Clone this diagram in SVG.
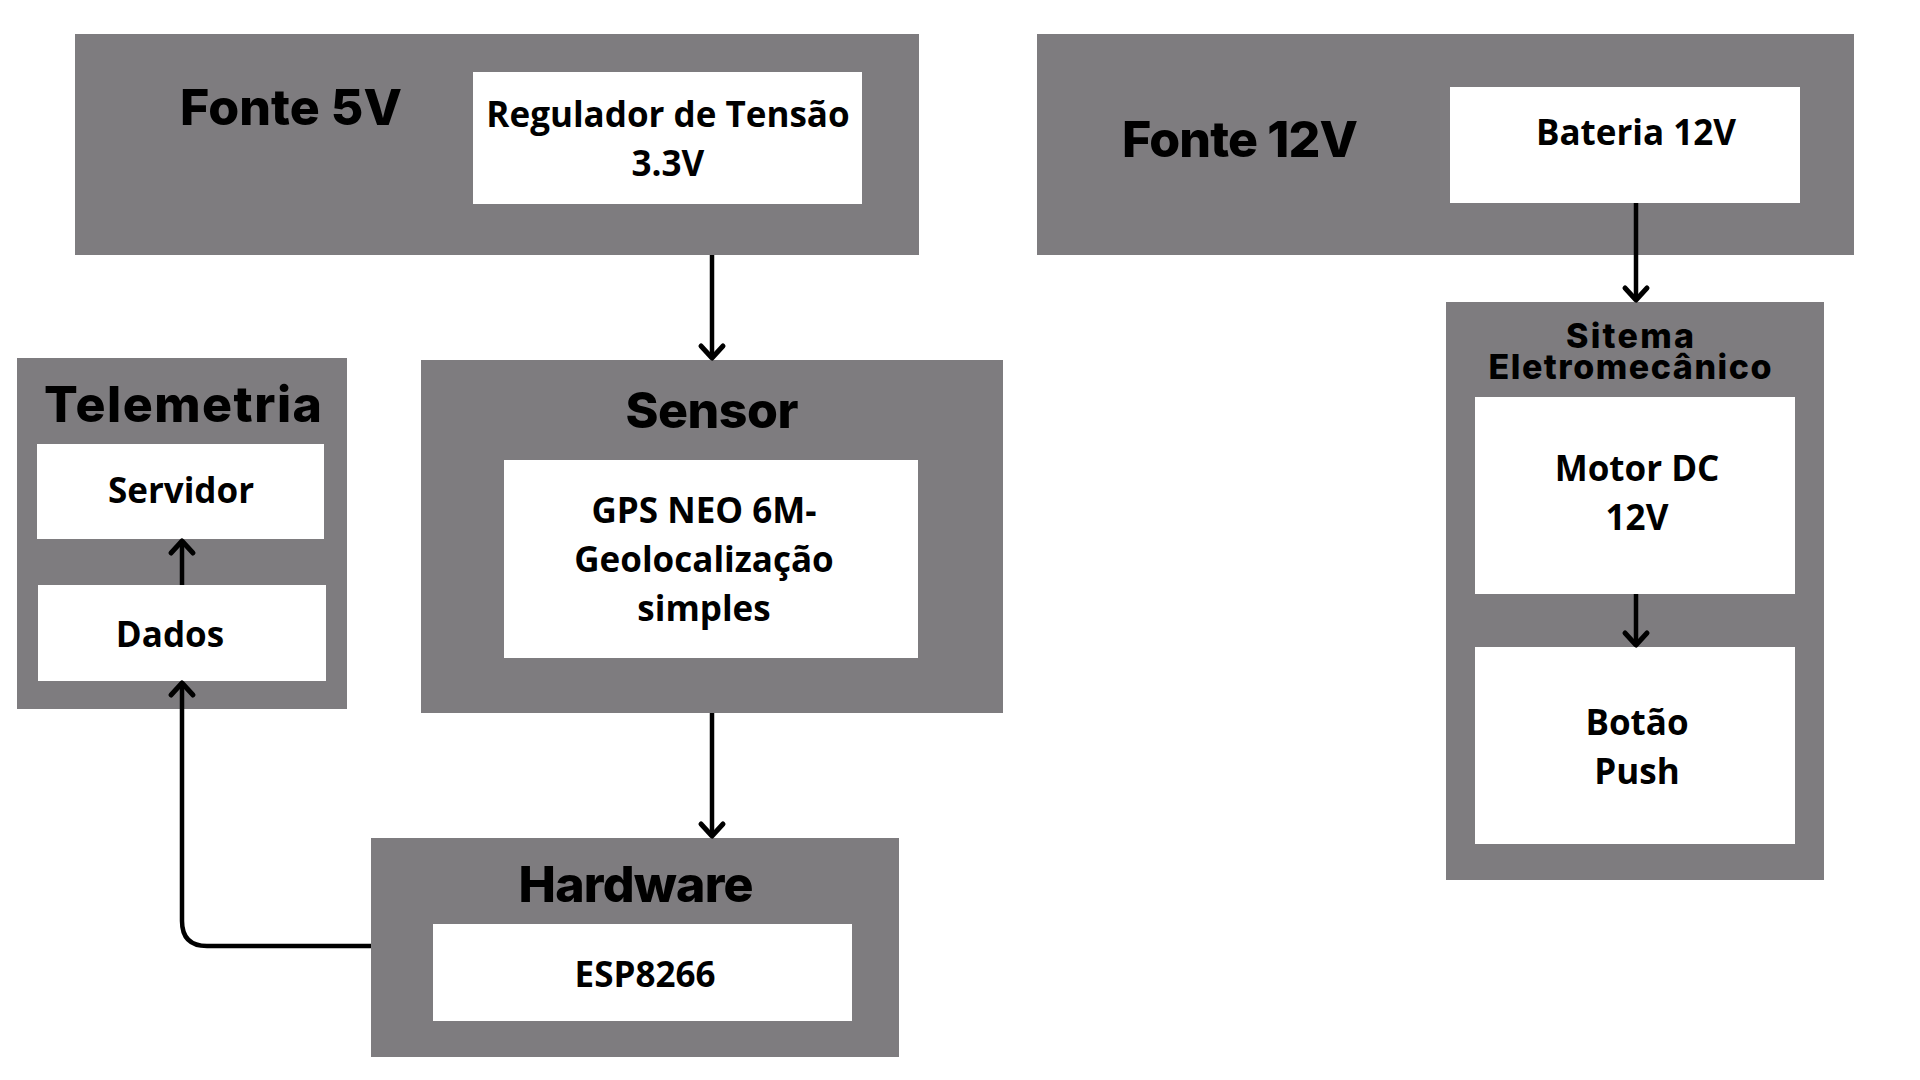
<svg xmlns="http://www.w3.org/2000/svg" width="1920" height="1080" viewBox="0 0 1920 1080">
<defs>
<style>
.outer{fill:#7e7c7f}
.inner{fill:#ffffff}
.title{font-family:Inter,"Liberation Sans",sans-serif;font-weight:800;fill:#000;text-anchor:middle}
.lbl{font-family:"Open Sans","Liberation Sans",sans-serif;font-weight:700;fill:#000;text-anchor:middle;font-size:35px}
.conn{fill:none;stroke:#000;stroke-width:4.5}
</style>
<marker id="arr" markerUnits="userSpaceOnUse" markerWidth="34" markerHeight="34" viewBox="-17 -17 34 34" refX="0" refY="0" orient="auto">
<polyline points="-12,-11 0,0 -12,11" fill="none" stroke="#000" stroke-width="5" stroke-linecap="round" stroke-linejoin="round"/>
</marker>
</defs>
<rect width="1920" height="1080" fill="#fff"/>
<g id="fonte5v">
<rect class="outer" x="75" y="34" width="844" height="221"/>
<text class="title" x="291" y="125" font-size="50" textLength="222">Fonte 5V</text>
<g id="regulador">
<rect class="inner" x="473" y="72" width="389" height="132"/>
<text class="lbl" x="668" y="127">Regulador de Tensão</text>
<text class="lbl" x="668" y="176">3.3V</text>
</g>
</g>
<g id="fonte12v">
<rect class="outer" x="1037" y="34" width="817" height="221"/>
<text class="title" x="1240" y="157" font-size="50" textLength="236">Fonte 12V</text>
<g id="bateria">
<rect class="inner" x="1450" y="87" width="350" height="116"/>
<text class="lbl" x="1636" y="145">Bateria 12V</text>
</g>
</g>
<g id="telemetria">
<rect class="outer" x="17" y="358" width="330" height="351"/>
<text class="title" x="183" y="422" font-size="50" textLength="278">Telemetria</text>
<g id="servidor">
<rect class="inner" x="37" y="444" width="287" height="95"/>
<text class="lbl" x="181" y="503">Servidor</text>
</g>
<g id="dados">
<rect class="inner" x="38" y="585" width="288" height="96"/>
<text class="lbl" x="170" y="647">Dados</text>
</g>
</g>
<g id="sensor">
<rect class="outer" x="421" y="360" width="582" height="353"/>
<text class="title" x="712" y="428" font-size="50" textLength="173">Sensor</text>
<g id="gps">
<rect class="inner" x="504" y="460" width="414" height="198"/>
<text class="lbl" x="704" y="523">GPS NEO 6M-</text>
<text class="lbl" x="704" y="572">Geolocalização</text>
<text class="lbl" x="704" y="621">simples</text>
</g>
</g>
<g id="hardware">
<rect class="outer" x="371" y="838" width="528" height="219"/>
<text class="title" x="636" y="902" font-size="50" textLength="235">Hardware</text>
<g id="esp">
<rect class="inner" x="433" y="924" width="419" height="97"/>
<text class="lbl" x="645" y="987">ESP8266</text>
</g>
</g>
<g id="sistema">
<rect class="outer" x="1446" y="302" width="378" height="578"/>
<text class="title" x="1630" y="348" font-size="34" textLength="128">Sitema</text>
<text class="title" x="1630" y="379" font-size="34" textLength="283">Eletromecânico</text>
<g id="motor">
<rect class="inner" x="1475" y="397" width="320" height="197"/>
<text class="lbl" x="1637" y="481">Motor DC</text>
<text class="lbl" x="1637" y="530">12V</text>
</g>
<g id="botao">
<rect class="inner" x="1475" y="647" width="320" height="197"/>
<text class="lbl" x="1637" y="735">Botão</text>
<text class="lbl" x="1637" y="784">Push</text>
</g>
</g>
<g id="connectors">
<path class="conn" d="M712 255 V358" marker-end="url(#arr)"/>
<path class="conn" d="M712 713 V836" marker-end="url(#arr)"/>
<path class="conn" d="M1636 203 V300" marker-end="url(#arr)"/>
<path class="conn" d="M1636 594 V645" marker-end="url(#arr)"/>
<path class="conn" d="M182 585 V541" marker-end="url(#arr)"/>
<path class="conn" d="M371 946 H207 Q182 946 182 921 V683" marker-end="url(#arr)"/>
</g>
</svg>
